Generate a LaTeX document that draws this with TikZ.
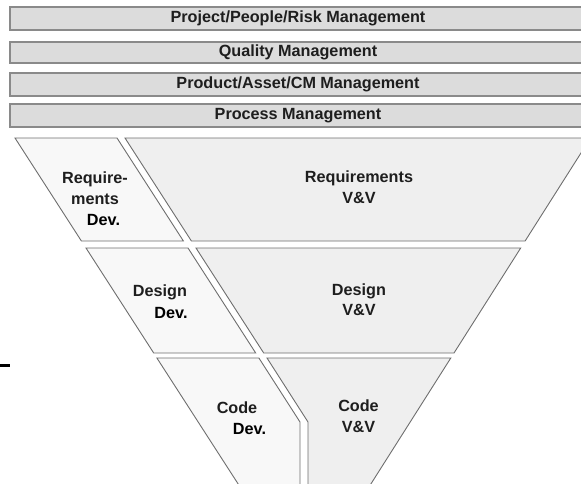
\documentclass[tikz,border=0pt]{standalone}
\usepackage{fontspec}
\setmainfont{Liberation Sans}
\definecolor{bandfill}{HTML}{DCDCDC}
\definecolor{bandedge}{HTML}{8A8A8A}
\definecolor{devfill}{HTML}{F8F8F8}
\definecolor{vvfill}{HTML}{EFEFEF}
\definecolor{paneledge}{HTML}{6E6E6E}
\definecolor{labeltext}{HTML}{1E1E1E}
\tikzset{
  band/.style={fill=bandfill, draw=bandedge, line width=1.5pt},
  devpanel/.style={fill=devfill, draw=paneledge, line width=0.9pt, line join=miter},
  vvpanel/.style={fill=vvfill, draw=paneledge, line width=0.9pt, line join=miter},
  lbl/.style={font=\fontsize{16.2}{20.5}\selectfont\bfseries, text=labeltext,
              inner sep=0pt, align=center},
  devlbl/.style={lbl, text=black},
}
\begin{document}
\begin{tikzpicture}[x=1pt, y=-1pt]
  \useasboundingbox (0,0) rectangle (581,483);
  \clip (0,0) rectangle (581,483);

  % management bands
  \draw[band] (10,7)   rectangle (600,30);
  \draw[band] (10,42)  rectangle (600,63);
  \draw[band] (10,73)  rectangle (600,96);
  \draw[band] (10,104) rectangle (600,127);
  \node[lbl] (pm)  at (298,18.5)  {Project/People/Risk Management};
  \node[lbl] (qm)  at (298,52.5)  {Quality Management};
  \node[lbl] (cm)  at (298,84.5)  {Product/Asset/CM Management};
  \node[lbl] (prm) at (298,115.5) {Process Management};

  % development side of the funnel
  \draw[devpanel] (15,138) -- (117,138) -- (183.4,241) -- (81.4,241) -- cycle;
  \draw[devpanel] (86,248) -- (188,248) -- (255.7,353) -- (153.7,353) -- cycle;
  \draw[devpanel] (156.9,358) -- (258.9,358) -- (300,422) -- (300,500) -- (248.5,500) -- cycle;

  % V&V side of the funnel
  \draw[vvpanel] (125,138) -- (590.5,138) -- (525.1,241) -- (191.4,241) -- cycle;
  \draw[vvpanel] (196,248) -- (520.7,248) -- (454,353) -- (263.7,353) -- cycle;
  \draw[vvpanel] (267,358) -- (450.8,358) -- (360.7,500) -- (308,500) -- (308,422) -- cycle;

  % panel labels
  \node[lbl] (rdev) at (95,188) {Require-\\ments};
  \node[devlbl] (rdevb) at (103.5,220) {Dev.};
  \node[lbl] (ddev) at (160,292) {Design};
  \node[devlbl] (ddevb) at (171,313) {Dev.};
  \node[lbl] (cdev) at (237,408) {Code};
  \node[devlbl] (cdevb) at (249.5,429) {Dev.};

  \node[lbl] (rvv) at (359,187) {Requirements\\V\&V};
  \node[lbl] (dvv) at (359,299.5) {Design\\V\&V};
  \node[lbl] (cvv) at (358.5,416) {Code\\V\&V};

  % short mark at the left edge
  \draw[black, line width=2.5pt] (0,365.5) -- (10,365.5);
\end{tikzpicture}
\end{document}
